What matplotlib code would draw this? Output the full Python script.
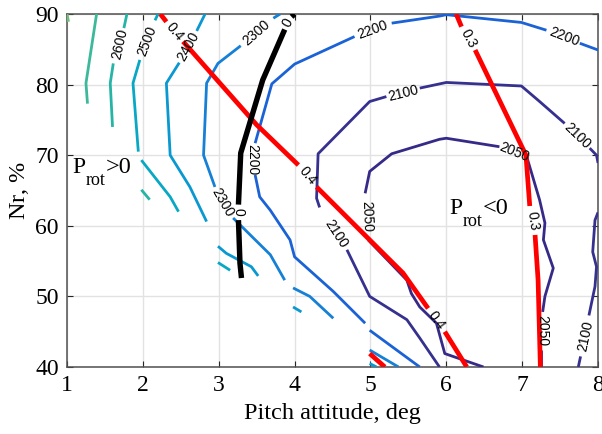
import numpy as np
import matplotlib
matplotlib.use("Agg")
import matplotlib.pyplot as plt
from matplotlib.transforms import offset_copy

# Шрифты: Times-подобный для осей, Helvetica-подобный для подписей изолиний
plt.rcParams['font.family'] = ['Liberation Serif', 'DejaVu Serif']
plt.rcParams['mathtext.fontset'] = 'custom'
plt.rcParams['mathtext.rm'] = 'Liberation Serif'
plt.rcParams['mathtext.it'] = 'Liberation Serif:italic'

# Изолинии мощности (куски линий, разрывы - места подписей или пропуски данных)
lev_2800 = [[(1.00, 90.0), (1.02, 88.9)]]
lev_2700 = [[(1.39, 90.0), (1.25, 80.2), (1.27, 77.3)]]
lev_2600 = [[(1.79, 90.0), (1.75, 88.0)],
            [(1.61, 83.0), (1.57, 80.2), (1.60, 74.0)],
            [(1.98, 65.1), (2.09, 63.7)]]
lev_2500 = [[(2.20, 90.0), (2.16, 89.1)],
            [(1.96, 83.5), (1.87, 80.2), (1.94, 70.5)],
            [(1.98, 69.3), (2.36, 64.1), (2.47, 62.0)],
            [(2.99, 54.8), (3.15, 53.7)]]
lev_2400 = [[(2.82, 90.0), (2.71, 87.6)],
            [(2.48, 83.1), (2.31, 80.2), (2.36, 70.0), (2.62, 65.5), (2.84, 60.6)],
            [(2.99, 57.1), (3.10, 56.1), (3.43, 54.2), (3.52, 52.9)],
            [(3.98, 48.5), (4.09, 47.8)],
            [(4.99, 40.5), (5.08, 40.0)]]
lev_2300 = [[(3.81, 90.0), (3.72, 89.4)],
            [(3.29, 85.5), (2.99, 83.0), (2.84, 80.2), (2.80, 70.0), (2.95, 65.5)],
            [(3.19, 61.1), (3.68, 55.9), (3.87, 52.3)],
            [(3.98, 51.2), (4.20, 50.0), (4.51, 46.9)],
            [(4.99, 42.4), (5.37, 40.0)]]
lev_2200 = [[(8.00, 84.9), (7.76, 85.85)],
            [(7.32, 87.7), (6.99, 88.8), (6.00, 89.9), (5.91, 89.7), (5.28, 88.7)],
            [(4.79, 86.8), (4.00, 82.9), (3.70, 80.1), (3.48, 71.7)],
            [(3.48, 67.2), (3.54, 64.1), (3.68, 62.2), (3.94, 58.0), (4.00, 55.6),
             (4.51, 50.7), (4.93, 46.2)],
            [(4.99, 45.2), (5.65, 40.0)]]
lev_2100 = [[(5.91, 40.0), (5.65, 44.1), (5.48, 46.7), (4.99, 50.0), (4.69, 56.6)],
            [(4.33, 62.6), (4.29, 63.9), (4.31, 70.2), (4.99, 77.6), (5.21, 78.3)],
            [(5.65, 79.5), (6.00, 80.3), (6.99, 79.8), (7.23, 77.6), (7.56, 74.5)],
            [(7.89, 71.0), (7.98, 70.0), (8.00, 68.9)],
            [(8.00, 61.9), (7.96, 60.8), (7.93, 56.3), (7.98, 54.2), (7.96, 51.4), (7.88, 47.3)],
            [(7.77, 41.5), (7.74, 40.0)]]
lev_2050 = [[(4.93, 64.6), (4.99, 67.7), (5.28, 70.2), (5.91, 72.25), (6.00, 72.4), (6.70, 71.2)],
            [(7.06, 69.8), (7.23, 63.65), (7.30, 60.4), (7.28, 58.0), (7.41, 54.0),
             (7.30, 50.0), (7.27, 47.8)],
            [(7.25, 42.4), (7.25, 40.0)],
            [(4.97, 58.0), (5.48, 52.3), (5.54, 50.4), (5.65, 48.5), (5.87, 46.2),
             (5.98, 41.9), (6.49, 40.0)]]

levels = [2050, 2100, 2200, 2300, 2400, 2500, 2600, 2700, 2800]
level_lines = [lev_2050, lev_2100, lev_2200, lev_2300, lev_2400,
               lev_2500, lev_2600, lev_2700, lev_2800]
level_colors = ['#352a87', '#36308f', '#1a62d6', '#1580d6', '#0a98d1',
                '#08a8c4', '#26b4a6', '#3bb99a', '#72be7a']

# Изолинии второго параметра (красные) и граница Prot = 0 (черная)
red_04 = [[(2.23, 90.0), (2.31, 88.9)],
          [(2.53, 86.1), (3.50, 74.3), (4.05, 68.6)],
          [(4.29, 65.5), (4.99, 58.0), (5.43, 53.3), (5.76, 48.3)],
          [(5.98, 45.0), (6.27, 40.0)],
          [(4.99, 41.9), (5.19, 40.0)]]
red_03 = [[(6.13, 90.0), (6.20, 88.2)],
          [(6.38, 84.9), (7.05, 70.0), (7.10, 62.8)],
          [(7.17, 58.7), (7.21, 52.3), (7.24, 40.0)]]
black_0 = [[(4.00, 90.0), (3.96, 89.6)],
           [(3.87, 87.8), (3.58, 80.65), (3.29, 70.3), (3.26, 63.0)],
           [(3.26, 60.8), (3.28, 54.7), (3.30, 52.6)]]

# Подписи изолиний: текст, x, y, угол
clabels = [("2600", 1.70, 85.7, 77), ("2500", 2.06, 86.2, 69),
           ("2400", 2.60, 85.4, 61), ("2300", 3.50, 87.4, 41),
           ("2300", 3.045, 63.3, -60), ("2200", 5.03, 87.8, 20),
           ("2200", 7.55, 86.8, -21), ("2200", 3.44, 69.4, -90),
           ("2100", 5.43, 78.8, 14), ("2100", 7.73, 72.8, -44),
           ("2100", 4.54, 58.9, -57), ("2100", 7.83, 44.4, 78),
           ("2050", 6.89, 70.5, -22), ("2050", 7.26, 45.1, -90),
           ("2050", 4.946, 61.3, -88),
           ("0.4", 2.42, 87.5, -50), ("0.4", 4.17, 67.05, -50),
           ("0.4", 5.87, 46.65, -54), ("0.3", 6.29, 86.55, -62),
           ("0.3", 7.135, 60.75, -82), ("0", 3.916, 88.7, 62),
           ("0", 3.26, 61.9, -90)]

# Надписи областей: знак, x, y
regions = [(">0", 1.066, 67.44), ("<0", 6.037, 61.63)]

fig = plt.figure(figsize=(6.02, 4.34), dpi=100)
ax = fig.add_axes([0.1113, 0.1544, 0.8821, 0.8134])


def draw_pieces(pieces, color, lw, z):
    for p in pieces:
        xs = [v[0] for v in p]
        ys = [v[1] for v in p]
        ax.plot(xs, ys, color=color, lw=lw, zorder=z,
                solid_joinstyle='round', solid_capstyle='butt')


for lines, col in zip(level_lines, level_colors):
    draw_pieces(lines, col, 2.0, 3)
draw_pieces(red_04, '#ff0000', 3.4, 4)
draw_pieces(red_03, '#ff0000', 3.4, 4)
draw_pieces(black_0, '#000000', 3.9, 5)

for txt, x, y, rot in clabels:
    ax.text(x, y, txt, rotation=rot, rotation_mode='anchor', ha='center', va='center',
            fontsize=10, family=['Liberation Sans', 'DejaVu Sans'], color='black', zorder=6)

# P_rot с опущенным индексом, как в исходнике
for sign, x, y in regions:
    ax.text(x, y, 'P', fontsize=17, ha='left', va='baseline', zorder=6)
    t_sub = offset_copy(ax.transData, fig=fig, x=13.5, y=-11.5, units='dots')
    ax.text(x, y, 'rot', fontsize=13, ha='left', va='baseline', zorder=6, transform=t_sub)
    t_sign = offset_copy(ax.transData, fig=fig, x=34, y=0, units='dots')
    ax.text(x, y, sign, fontsize=17.5, ha='left', va='baseline', zorder=6, transform=t_sign)

ax.set_xlim(1, 8)
ax.set_ylim(40, 90)
ax.set_xticks(np.arange(1, 9, 1))
ax.set_yticks(np.arange(40, 91, 10))
ax.grid(True, color='#e2e2e2', lw=1.0)
ax.set_axisbelow(True)
ax.tick_params(direction='in', length=4, width=0.8, top=True, right=True,
               labelsize=17, pad=6, color='#262626')
for s in ax.spines.values():
    s.set_color('#505050')
    s.set_linewidth(1.1)

ax.set_xlabel('Pitch attitude, deg', fontsize=17.5, labelpad=5)
ax.set_ylabel(r'Nr, $\mathit{\%}$', fontsize=17.5, labelpad=3)

fig.savefig('out.png', dpi=100)
